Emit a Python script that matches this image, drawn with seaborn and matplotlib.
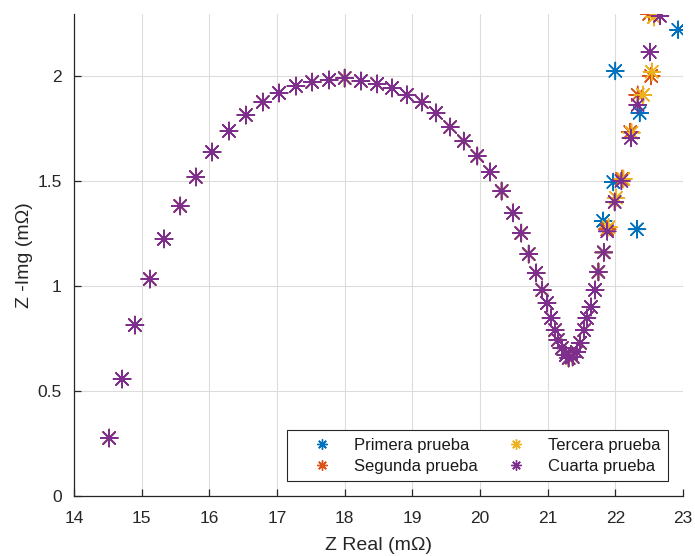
import matplotlib
matplotlib.use("Agg")
import matplotlib.pyplot as plt
import seaborn as sns
import pandas as pd
from matplotlib.lines import Line2D

# Shared main arc (all four tests nearly overlap here)
main_x = [14.52, 14.71, 14.90, 15.12, 15.33, 15.57, 15.80, 16.04, 16.29, 16.54,
          16.79, 17.03, 17.28, 17.52, 17.77, 18.00, 18.24, 18.48, 18.70, 18.92,
          19.14, 19.35, 19.56, 19.76, 19.96, 20.15, 20.32, 20.49, 20.61, 20.72,
          20.83, 20.92, 20.99, 21.05, 21.11, 21.15, 21.21, 21.27, 21.31, 21.37,
          21.43, 21.48, 21.54, 21.58, 21.64, 21.70, 21.75, 21.83]
main_y = [0.276, 0.557, 0.814, 1.033, 1.224, 1.381, 1.519, 1.638, 1.738, 1.814,
          1.876, 1.919, 1.952, 1.971, 1.981, 1.990, 1.976, 1.962, 1.943, 1.910,
          1.876, 1.824, 1.757, 1.690, 1.619, 1.543, 1.452, 1.348, 1.252, 1.152,
          1.062, 0.981, 0.919, 0.848, 0.790, 0.743, 0.705, 0.671, 0.657, 0.662,
          0.686, 0.729, 0.790, 0.848, 0.900, 0.981, 1.067, 1.160]

# Low-frequency tails, which differ per test
tail1_x = [21.82, 21.97, 22.32, 22.36, 22.00, 22.93]
tail1_y = [1.310, 1.495, 1.270, 1.824, 2.024, 2.220]
tail2_x = [21.88, 21.99, 22.10, 22.22, 22.33, 22.53, 22.50]
tail2_y = [1.270, 1.400, 1.510, 1.733, 1.910, 2.000, 2.295]
tail3_x = [21.90, 22.01, 22.12, 22.24, 22.41, 22.54, 22.57]
tail3_y = [1.280, 1.420, 1.510, 1.730, 1.910, 2.020, 2.280]
tail4_x = [21.88, 21.99, 22.09, 22.23, 22.33, 22.51, 22.66]
tail4_y = [1.260, 1.400, 1.500, 1.705, 1.862, 2.114, 2.286]

labels = ["Primera prueba", "Segunda prueba", "Tercera prueba", "Cuarta prueba"]
colors = ["#0072BD", "#D95319", "#EDB120", "#7E2F8E"]
x_ticks = [14, 15, 16, 17, 18, 19, 20, 21, 22, 23]
y_ticks = [0, 0.5, 1, 1.5, 2]
y_ticklabels = ["0", "0.5", "1", "1.5", "2"]

tails = [(tail1_x, tail1_y), (tail2_x, tail2_y), (tail3_x, tail3_y), (tail4_x, tail4_y)]
frames = []
for lab, (tx, ty) in zip(labels, tails):
    frames.append(pd.DataFrame({"x": main_x + tx, "y": main_y + ty, "serie": lab}))
df = pd.concat(frames, ignore_index=True)

sns.set_theme(style="white")
plt.rcParams["font.family"] = ["Liberation Sans", "DejaVu Sans"]

fig = plt.figure(figsize=(6.95, 5.56), dpi=100)
ax = fig.add_axes([0.1065, 0.1079, 0.8762, 0.8669])

sns.scatterplot(data=df, x="x", y="y", hue="serie", hue_order=labels,
                palette=colors, marker=(8, 2, 0), s=150, linewidth=1.1,
                ax=ax, legend=False, zorder=3, clip_on=True)

ax.set_xlim(14, 23)
ax.set_ylim(0, 2.295)
ax.set_xticks(x_ticks)
ax.set_yticks(y_ticks)
ax.set_yticklabels(y_ticklabels)
ax.grid(True, color="#dcdcdc", linewidth=0.8)
ax.set_axisbelow(True)
for s in ["top", "right"]:
    ax.spines[s].set_visible(False)
for s in ["left", "bottom"]:
    ax.spines[s].set_color("#262626")
    ax.spines[s].set_linewidth(0.9)
ax.tick_params(direction="in", length=5, width=0.9, color="#262626",
               labelsize=12.5, labelcolor="#262626", left=True, bottom=True)
ax.tick_params(axis="x", pad=11)
ax.tick_params(axis="y", pad=9)
ax.set_xlabel("Z Real (m\u03a9)", fontsize=14, color="#262626", labelpad=8)
ax.set_ylabel("Z -Img (m\u03a9)", fontsize=14, color="#262626", labelpad=3)

handles = [Line2D([], [], linestyle="", marker=(8, 2, 0), markersize=7.5,
                  markeredgewidth=1.0, color=c) for c in colors]
leg = ax.legend(handles, labels, ncol=2, loc="lower right",
                bbox_to_anchor=(0.975, 0.031), fontsize=12, frameon=True,
                fancybox=False, framealpha=1, edgecolor="#262626",
                columnspacing=0.66, handletextpad=0.27, handlelength=3.3,
                borderpad=0.45, labelspacing=0.35, borderaxespad=0)
leg.get_frame().set_linewidth(0.8)
for t in leg.get_texts():
    t.set_color("#1a1a1a")

fig.savefig("out.png", dpi=100)
